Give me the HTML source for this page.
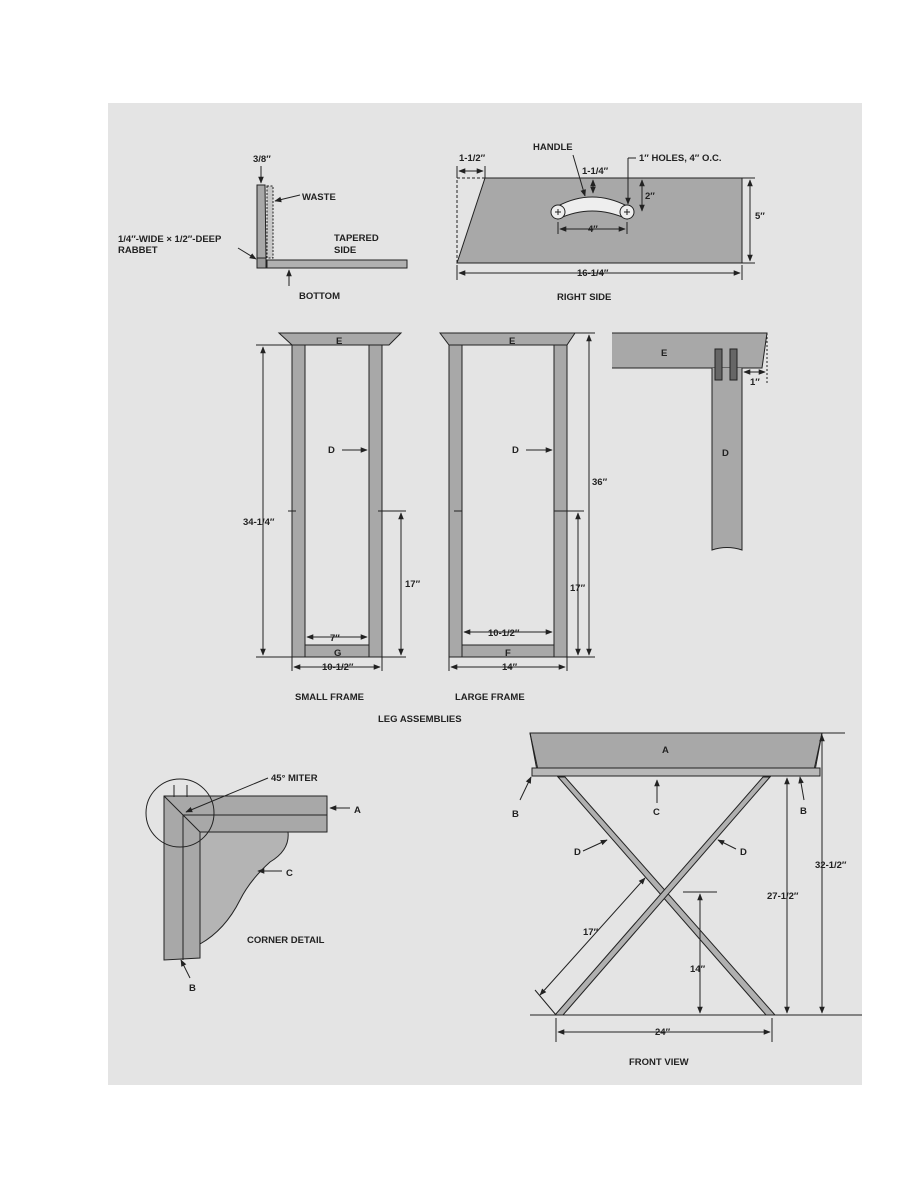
<!DOCTYPE html>
<html><head><meta charset="utf-8"><style>
html,body{margin:0;padding:0;background:#fff}
svg{display:block}
text{font-family:"Liberation Sans",sans-serif;font-weight:bold;font-size:9.5px;fill:#222}
</style></head><body>
<svg width="918" height="1188" viewBox="0 0 918 1188" xmlns="http://www.w3.org/2000/svg">
<defs>
<marker id="a" viewBox="0 0 10 10" refX="9" refY="5" markerWidth="7" markerHeight="7" orient="auto-start-reverse"><path d="M0,1 L10,5 L0,9 z" fill="#222"/></marker>
</defs>
<rect x="108" y="103" width="754" height="982" fill="#e4e4e4"/>
<g stroke="#222" stroke-width="1" fill="none">

<!-- top left detail -->
<polygon points="257,185 265,185 266,258 257,258" fill="#a8a8a8"/>
<rect x="267" y="186" width="6" height="72" stroke-dasharray="2,1.5" fill="#c8c8c8"/>
<rect x="257" y="258" width="9" height="10" fill="#9a9a9a"/>
<rect x="267" y="260" width="140" height="8" fill="#b0b0b0"/>
<line x1="261" y1="166" x2="261" y2="183" marker-end="url(#a)"/>
<line x1="300" y1="195" x2="275" y2="201" marker-end="url(#a)"/>
<line x1="238" y1="248" x2="256" y2="259" marker-end="url(#a)"/>
<line x1="289" y1="286" x2="289" y2="270" marker-end="url(#a)"/>

<!-- right side -->
<polygon points="457,263 485,178 742,178 742,263" fill="#a8a8a8"/>
<polyline points="485,178 457,178 457,263" stroke-dasharray="3,2"/>
<path d="M558,206 Q592,188 627,206 L627,219 Q592,203 558,219 Z" fill="#eee"/>
<circle cx="558" cy="212" r="7" fill="#eee"/><circle cx="627" cy="212" r="7" fill="#eee"/>
<path d="M555,212h6M558,209v6M624,212h6M627,209v6"/>
<line x1="457" y1="166" x2="457" y2="178"/><line x1="485" y1="166" x2="485" y2="178"/>
<line x1="459" y1="171" x2="483" y2="171" marker-start="url(#a)" marker-end="url(#a)"/>
<line x1="573" y1="155" x2="585" y2="196" marker-end="url(#a)"/>
<line x1="636" y1="158" x2="628" y2="158"/><line x1="628" y1="158" x2="628" y2="204" marker-end="url(#a)"/>
<line x1="593" y1="180" x2="593" y2="193" marker-start="url(#a)" marker-end="url(#a)"/>
<line x1="642" y1="180" x2="642" y2="211" marker-start="url(#a)" marker-end="url(#a)"/>
<line x1="558" y1="222" x2="558" y2="234"/><line x1="627" y1="222" x2="627" y2="234"/>
<line x1="560" y1="229" x2="625" y2="229" marker-start="url(#a)" marker-end="url(#a)"/>
<line x1="742" y1="178" x2="755" y2="178"/><line x1="742" y1="263" x2="755" y2="263"/>
<line x1="750" y1="180" x2="750" y2="261" marker-start="url(#a)" marker-end="url(#a)"/>
<line x1="457" y1="265" x2="457" y2="280"/><line x1="742" y1="265" x2="742" y2="280"/>
<line x1="459" y1="273" x2="740" y2="273" marker-start="url(#a)" marker-end="url(#a)"/>

<!-- small frame -->
<polygon points="279,333 401,333 389,345 292,345" fill="#a8a8a8"/>
<rect x="292" y="345" width="13" height="312" fill="#a8a8a8"/>
<rect x="369" y="345" width="13" height="312" fill="#a8a8a8"/>
<rect x="305" y="645" width="64" height="12" fill="#a8a8a8"/>
<path d="M288,511h8M378,511h8"/>
<path d="M256,345h36M256,657h36"/>
<line x1="263" y1="347" x2="263" y2="655" marker-start="url(#a)" marker-end="url(#a)"/>
<path d="M382,511h24"/>
<line x1="401" y1="513" x2="401" y2="655" marker-start="url(#a)" marker-end="url(#a)"/>
<path d="M382,657h24"/>
<line x1="307" y1="637" x2="367" y2="637" marker-start="url(#a)" marker-end="url(#a)"/>
<path d="M292,657v14M382,657v14"/>
<line x1="294" y1="667" x2="380" y2="667" marker-start="url(#a)" marker-end="url(#a)"/>
<line x1="342" y1="450" x2="367" y2="450" marker-end="url(#a)"/>

<!-- large frame -->
<polygon points="440,333 575,333 567,345 449,345" fill="#a8a8a8"/>
<rect x="449" y="345" width="13" height="312" fill="#a8a8a8"/>
<rect x="554" y="345" width="13" height="312" fill="#a8a8a8"/>
<rect x="462" y="645" width="92" height="12" fill="#a8a8a8"/>
<path d="M454,511h8M554,511h8"/>
<path d="M575,333h20M567,657h28M562,511h22"/>
<line x1="589" y1="335" x2="589" y2="655" marker-start="url(#a)" marker-end="url(#a)"/>
<line x1="578" y1="513" x2="578" y2="655" marker-start="url(#a)" marker-end="url(#a)"/>
<line x1="464" y1="632" x2="552" y2="632" marker-start="url(#a)" marker-end="url(#a)"/>
<path d="M449,657v14M567,657v14"/>
<line x1="451" y1="667" x2="565" y2="667" marker-start="url(#a)" marker-end="url(#a)"/>
<line x1="526" y1="450" x2="552" y2="450" marker-end="url(#a)"/>

<!-- E/D detail -->
<path d="M612,333 L767,333 L762,368 L612,368" fill="#a8a8a8"/>
<line x1="767" y1="333" x2="767" y2="385" stroke-dasharray="2,2"/>
<path d="M712,368 V550 Q727,545 742,550 V368" fill="#a8a8a8"/>
<rect x="715" y="349" width="7" height="31" fill="#666"/>
<rect x="730" y="349" width="7" height="31" fill="#666"/>
<line x1="744" y1="372" x2="765" y2="372" marker-start="url(#a)" marker-end="url(#a)"/>

<!-- corner detail -->
<path d="M200,832 L288,832 Q290,850 270,862 Q250,880 240,900 Q225,930 200,944 Z" fill="#b4b4b4"/>
<path d="M164,796 L327,796 L327,832 L200,832 L200,958 L164,960 Z" fill="#a8a8a8"/>
<path d="M183,815 L327,815 M183,815 L183,960 M164,796 L200,832"/>
<circle cx="180" cy="813" r="34"/>
<path d="M174,785v12M187,785v12"/>
<line x1="268" y1="778" x2="186" y2="812" marker-end="url(#a)"/>
<line x1="350" y1="808" x2="330" y2="808" marker-end="url(#a)"/>
<line x1="282" y1="871" x2="258" y2="871" marker-end="url(#a)"/>
<line x1="190" y1="978" x2="181" y2="960" marker-end="url(#a)"/>

<!-- front view -->
<polygon points="530,733 822,733 814,770 538,770" fill="#a8a8a8"/>
<path d="M530,733 L538,776 L814,776 L822,733"/>
<rect x="532" y="768" width="288" height="8" fill="#b8b8b8"/>
<polygon points="558,777 565,777 775,1015 766,1015" fill="#b0b0b0"/>
<polygon points="763,777 770,777 563,1015 555,1015" fill="#b0b0b0"/>
<line x1="530" y1="1015" x2="862" y2="1015"/>
<path d="M556,1018v24M772,1018v24"/>
<line x1="558" y1="1032" x2="770" y2="1032" marker-start="url(#a)" marker-end="url(#a)"/>
<line x1="540" y1="995" x2="645" y2="878" marker-start="url(#a)" marker-end="url(#a)"/>
<path d="M535,990 L556,1015"/>
<path d="M683,892h34"/>
<line x1="700" y1="894" x2="700" y2="1013" marker-start="url(#a)" marker-end="url(#a)"/>
<line x1="787" y1="778" x2="787" y2="1013" marker-start="url(#a)" marker-end="url(#a)"/>
<path d="M805,733h40"/>
<line x1="822" y1="735" x2="822" y2="1013" marker-start="url(#a)" marker-end="url(#a)"/>
<line x1="657" y1="803" x2="657" y2="780" marker-end="url(#a)"/>
<line x1="520" y1="800" x2="531" y2="777" marker-end="url(#a)"/>
<line x1="804" y1="800" x2="800" y2="777" marker-end="url(#a)"/>
<line x1="583" y1="851" x2="607" y2="840" marker-end="url(#a)"/>
<line x1="736" y1="849" x2="718" y2="840" marker-end="url(#a)"/>
</g>

<!-- labels -->
<text x="253" y="162">3/8″</text>
<text x="302" y="200">WASTE</text>
<text x="118" y="242">1/4″-WIDE × 1/2″-DEEP</text>
<text x="118" y="253">RABBET</text>
<text x="334" y="241">TAPERED</text>
<text x="334" y="253">SIDE</text>
<text x="299" y="299">BOTTOM</text>
<text x="459" y="161">1-1/2″</text>
<text x="533" y="150">HANDLE</text>
<text x="639" y="161">1″ HOLES, 4″ O.C.</text>
<text x="582" y="174">1-1/4″</text>
<text x="645" y="199">2″</text>
<text x="588" y="232">4″</text>
<text x="755" y="219">5″</text>
<text x="577" y="276">16-1/4″</text>
<text x="557" y="300">RIGHT SIDE</text>
<text x="336" y="344">E</text>
<text x="509" y="344">E</text>
<text x="661" y="356">E</text>
<text x="722" y="456">D</text>
<text x="750" y="385">1″</text>
<text x="328" y="453">D</text>
<text x="512" y="453">D</text>
<text x="243" y="525">34-1/4″</text>
<text x="405" y="587">17″</text>
<text x="592" y="485">36″</text>
<text x="570" y="591">17″</text>
<text x="330" y="641">7″</text>
<text x="334" y="656">G</text>
<text x="488" y="636">10-1/2″</text>
<text x="505" y="656">F</text>
<text x="322" y="670">10-1/2″</text>
<text x="502" y="670">14″</text>
<text x="295" y="700">SMALL FRAME</text>
<text x="455" y="700">LARGE FRAME</text>
<text x="378" y="722">LEG ASSEMBLIES</text>
<text x="271" y="781">45° MITER</text>
<text x="354" y="813">A</text>
<text x="286" y="876">C</text>
<text x="247" y="943">CORNER DETAIL</text>
<text x="189" y="991">B</text>
<text x="662" y="753">A</text>
<text x="512" y="817">B</text>
<text x="653" y="815">C</text>
<text x="800" y="814">B</text>
<text x="574" y="855">D</text>
<text x="740" y="855">D</text>
<text x="583" y="935">17″</text>
<text x="690" y="972">14″</text>
<text x="767" y="899">27-1/2″</text>
<text x="815" y="868">32-1/2″</text>
<text x="655" y="1035">24″</text>
<text x="629" y="1065">FRONT VIEW</text>
</svg>
</body></html>
